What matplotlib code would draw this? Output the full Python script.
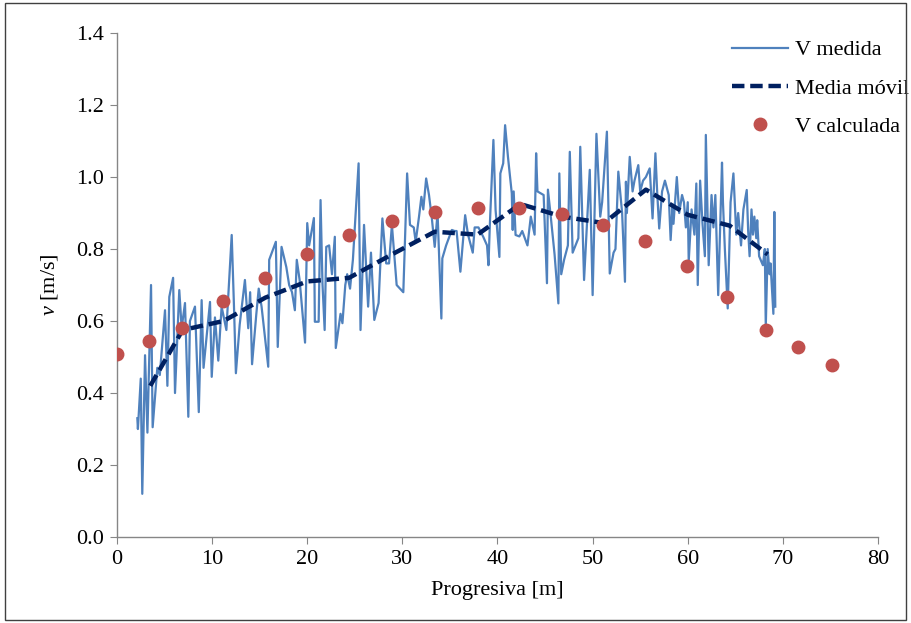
import matplotlib
matplotlib.use("Agg")
import matplotlib.pyplot as plt
from matplotlib.patches import Rectangle

# ---- data ----
x_medida = [2.14, 2.2, 2.5, 2.66, 2.95, 3.2, 3.58, 3.75, 4.24, 4.5, 5.05, 5.3, 5.5, 5.9, 6.1, 6.55,
            6.8, 7.15, 7.5, 7.67, 8.2, 8.6, 8.9, 9.1, 9.78, 9.96, 10.3, 10.65, 11.0, 11.5, 12.06,
            12.3, 12.5, 12.9, 13.45, 13.8, 14.0, 14.2, 14.65, 14.9, 15.2, 15.9, 16.0, 16.7, 16.9,
            17.3, 17.8, 18.1, 18.4, 18.7, 18.9, 19.2, 19.77, 20.0, 20.2, 20.7, 20.8, 21.2, 21.4,
            21.6, 21.83, 22.0, 22.3, 22.6, 22.9, 23.0, 23.5, 23.7, 24.0, 24.2, 24.5, 24.8, 25.4,
            25.6, 25.97, 26.4, 26.7, 27.05, 27.5, 27.9, 28.3, 28.6, 28.9, 29.4, 30.1, 30.5, 30.8,
            31.2, 31.4, 31.75, 32.0, 32.2, 32.5, 32.8, 33.1, 33.4, 33.7, 34.1, 34.2, 34.6, 35.2,
            35.5, 35.7, 36.1, 36.6, 36.9, 37.4, 37.6, 38.0, 38.5, 38.9, 39.05, 39.2, 39.57, 39.8,
            40.2, 40.3, 40.6, 40.8, 41.1, 41.5, 41.6, 41.7, 41.9, 42.3, 42.6, 43.15, 43.5, 43.9,
            44.06, 44.2, 44.85, 45.2, 45.3, 45.6, 46.0, 46.4, 46.5, 46.7, 47.0, 47.4, 47.6, 47.9,
            48.2, 48.5, 48.7, 49.1, 49.4, 49.7, 50.0, 50.4, 50.8, 51.0, 51.5, 51.8, 52.2, 52.4,
            52.7, 53.1, 53.4, 53.5, 53.6, 53.9, 54.2, 54.4, 54.8, 55.0, 55.3, 55.6, 56.0, 56.3,
            56.6, 56.8, 57.0, 57.3, 57.6, 58.0, 58.2, 58.4, 58.5, 58.85, 59.1, 59.4, 59.6, 59.8,
            60.0, 60.1, 60.4, 60.7, 60.9, 61.05, 61.3, 61.55, 61.8, 61.9, 62.2, 62.5, 62.7, 62.9,
            63.2, 63.6, 63.7, 63.9, 64.2, 64.5, 64.8, 65.1, 65.3, 65.6, 65.85, 66.2, 66.35, 66.5,
            66.7, 66.85, 67.0, 67.2, 67.3, 67.5, 67.9, 68.1, 68.2, 68.4, 68.6, 68.7, 69.0, 69.1,
            69.2]
v_medida = [0.33, 0.30, 0.44, 0.12, 0.505, 0.29, 0.70, 0.305, 0.47, 0.45, 0.63, 0.42, 0.667, 0.72,
            0.40, 0.686, 0.58, 0.65, 0.334, 0.60, 0.64, 0.347, 0.658, 0.47, 0.653, 0.445, 0.61,
            0.49, 0.64, 0.575, 0.839, 0.64, 0.455, 0.59, 0.714, 0.58, 0.68, 0.48, 0.62, 0.69,
            0.64, 0.473, 0.77, 0.82, 0.528, 0.806, 0.75, 0.70, 0.68, 0.63, 0.77, 0.714, 0.54,
            0.872, 0.81, 0.886, 0.598, 0.598, 0.936, 0.705, 0.575, 0.806, 0.81, 0.73, 0.834,
            0.525, 0.62, 0.594, 0.70, 0.73, 0.69, 0.77, 1.038, 0.575, 0.867, 0.64, 0.79, 0.603,
            0.65, 0.885, 0.76, 0.76, 0.867, 0.70, 0.68, 1.01, 0.867, 0.86, 0.82, 0.89, 0.945,
            0.91, 0.996, 0.95, 0.885, 0.806, 0.90, 0.607, 0.774, 0.81, 0.853, 0.85, 0.85, 0.737,
            0.894, 0.84, 0.79, 0.86, 0.86, 0.834, 0.81, 0.755, 0.87, 1.103, 0.908, 0.778, 1.01,
            1.038, 1.144, 1.056, 0.955, 0.853, 0.96, 0.839, 0.835, 0.85, 0.81, 0.89, 0.84, 1.066,
            0.96, 0.95, 0.705, 0.965, 0.89, 0.785, 0.649, 1.01, 0.73, 0.77, 0.81, 1.07, 0.79,
            0.81, 0.83, 1.084, 0.714, 0.87, 1.02, 0.672, 1.12, 0.89, 0.93, 1.126, 0.732, 0.79,
            0.80, 1.015, 0.90, 0.709, 0.987, 0.90, 1.056, 0.96, 0.99, 1.033, 0.96, 0.99, 1.0,
            1.024, 0.885, 1.066, 0.95, 0.857, 0.96, 0.99, 0.95, 0.825, 0.92, 0.87, 1.0, 0.90,
            0.95, 0.93, 0.86, 0.93, 0.765, 0.91, 0.84, 0.982, 0.70, 0.99, 0.87, 0.78, 1.117,
            0.755, 0.95, 0.86, 0.95, 0.672, 1.04, 0.93, 0.80, 0.635, 0.93, 1.01, 0.84, 0.90,
            0.81, 0.91, 0.964, 0.85, 0.78, 0.91, 0.84, 0.89, 0.83, 0.88, 0.78, 0.755, 0.80,
            0.584, 0.80, 0.73, 0.76, 0.62, 0.903, 0.64]

x_movil = [3.5, 6.9, 11.2, 15.6, 20.0, 24.4, 28.9, 33.4, 37.9, 42.4, 46.8, 51.2, 55.6, 60.0, 64.4, 68.4]
v_movil = [0.42, 0.575, 0.60, 0.665, 0.71, 0.72, 0.785, 0.848, 0.84, 0.925, 0.89, 0.872, 0.965,
           0.895, 0.865, 0.785]

x_calc = [0.0, 3.4, 6.8, 11.1, 15.6, 20.0, 24.4, 28.9, 33.4, 37.9, 42.3, 46.8, 51.1, 55.5, 59.9,
          64.1, 68.2, 71.6, 75.2]
v_calc = [0.508, 0.544, 0.58, 0.655, 0.72, 0.786, 0.839, 0.878, 0.903, 0.914, 0.914, 0.897,
          0.867, 0.822, 0.753, 0.667, 0.575, 0.528, 0.478]

x_ticks = [0, 10, 20, 30, 40, 50, 60, 70, 80]
y_ticks = [0.0, 0.2, 0.4, 0.6, 0.8, 1.0, 1.2, 1.4]

# ---- plot ----
plt.rcParams['font.family'] = ['Liberation Serif', 'DejaVu Serif']
plt.rcParams['mathtext.fontset'] = 'custom'
plt.rcParams['mathtext.rm'] = 'Liberation Serif'
plt.rcParams['mathtext.it'] = 'Liberation Serif:italic'

fig = plt.figure(figsize=(9.11, 6.23), dpi=100)
ax = fig.add_axes([0.1284, 0.138, 0.8354, 0.809])

ax.plot(x_medida, v_medida, color='#4F81BD', lw=1.6, label='V medida', zorder=2)
ax.plot(x_movil, v_movil, color='#002060', lw=3.2, ls=(0, (2.8, 1.3)), label='Media móvil', zorder=3)
ax.plot(x_calc, v_calc, 'o', color='#C0504D', ms=9, mec='#C0504D', label='V calculada', zorder=4)

ax.set_xlim(0, 80)
ax.set_ylim(0, 1.4)
ax.set_xticks(x_ticks)
ax.set_yticks(y_ticks)
ax.set_xticklabels([str(t) for t in x_ticks])
ax.set_yticklabels([f"{t:.1f}" for t in y_ticks])
ax.tick_params(labelsize=16, direction='out', length=5, color='#868686', pad=4)
for s in ['top', 'right']:
    ax.spines[s].set_visible(False)
for s in ['left', 'bottom']:
    ax.spines[s].set_color('#868686')
    ax.spines[s].set_linewidth(1)

ax.set_xlabel('Progresiva [m]', fontsize=16, labelpad=9)
ax.set_ylabel(r'$\it{v}$ [m/s]', fontsize=16, labelpad=12)

leg = ax.legend(loc='upper left', bbox_to_anchor=(0.7825, 1.026), frameon=False, fontsize=16,
                handlelength=2.5, handletextpad=0.3, labelspacing=0.8, borderpad=0.4)

fig.add_artist(Rectangle((0.005, 0.005), 0.99, 0.99, transform=fig.transFigure,
                         fill=False, edgecolor='#404040', lw=1))

fig.savefig('out.png', dpi=100)
